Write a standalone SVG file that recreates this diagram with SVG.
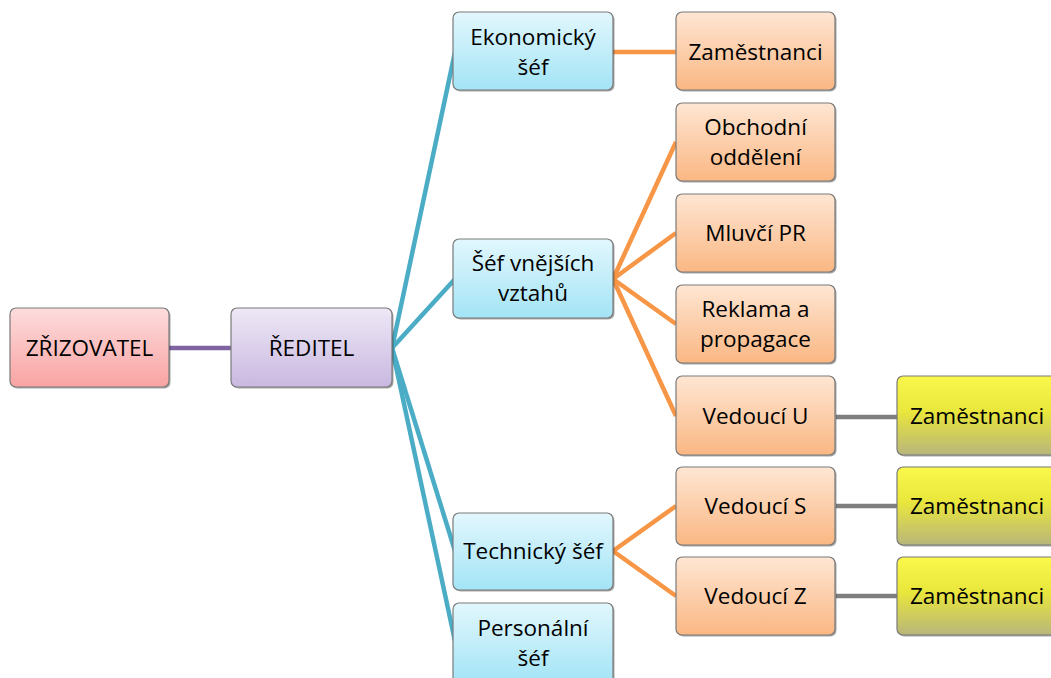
<svg xmlns="http://www.w3.org/2000/svg" width="1051" height="678" viewBox="0 0 1051 678">
<defs>
<linearGradient id="gPink" x1="0" y1="0" x2="0" y2="1"><stop offset="0" stop-color="#fddcdc"/><stop offset="1" stop-color="#f9a3a3"/></linearGradient>
<linearGradient id="gPurple" x1="0" y1="0" x2="0" y2="1"><stop offset="0" stop-color="#eee8f6"/><stop offset="1" stop-color="#c9b8e0"/></linearGradient>
<linearGradient id="gBlue" x1="0" y1="0" x2="0" y2="1"><stop offset="0" stop-color="#e2f7fd"/><stop offset="1" stop-color="#a3e4f6"/></linearGradient>
<linearGradient id="gOrange" x1="0" y1="0" x2="0" y2="1"><stop offset="0" stop-color="#fee6d3"/><stop offset="1" stop-color="#fab783"/></linearGradient>
<linearGradient id="gYellow" x1="0" y1="0" x2="0" y2="1"><stop offset="0" stop-color="#fbf84c"/><stop offset="0.45" stop-color="#e9e63c"/><stop offset="1" stop-color="#b8b67a"/></linearGradient>
</defs>
<style>
.box{stroke:#7a7a7a;stroke-width:1.2}
.sh{fill:#000;opacity:0.35}
.pink{fill:url(#gPink)}
.purple{fill:url(#gPurple)}
.blue{fill:url(#gBlue)}
.orange{fill:url(#gOrange)}
.yellow{fill:url(#gYellow)}
text{font-family:"Open Sans","Liberation Sans",sans-serif;font-size:22.5px;fill:#000;text-anchor:middle}
.c{fill:none;stroke-width:4.5}
.cb{stroke:#4bacc6}
.co{stroke:#f79646}
.cp{stroke:#8064a2}
.cg{stroke:#7f7f7f}
</style>
<g id="connectors">
<line class="c cp" x1="169" y1="348" x2="231" y2="348"/>
<line class="c cb" x1="392" y1="348" x2="455" y2="52"/>
<line class="c cb" x1="392" y1="348" x2="455" y2="279"/>
<line class="c cb" x1="392" y1="348" x2="455" y2="551"/>
<line class="c cb" x1="392" y1="348" x2="455" y2="641"/>
<line class="c co" x1="613" y1="52" x2="676" y2="52"/>
<line class="c co" x1="613" y1="279" x2="676" y2="142"/>
<line class="c co" x1="613" y1="279" x2="676" y2="233"/>
<line class="c co" x1="613" y1="279" x2="676" y2="324"/>
<line class="c co" x1="613" y1="279" x2="676" y2="416"/>
<line class="c co" x1="613" y1="551" x2="676" y2="506"/>
<line class="c co" x1="613" y1="551" x2="676" y2="596"/>
<line class="c cg" x1="836" y1="417" x2="897" y2="417"/>
<line class="c cg" x1="836" y1="506" x2="897" y2="506"/>
<line class="c cg" x1="836" y1="596" x2="897" y2="596"/>
</g>
<g id="zrizovatel"><rect class="sh" x="11.5" y="309.5" width="159" height="79" rx="6"/><rect class="box pink" x="10" y="308" width="159" height="79" rx="6"/><text x="89.5" y="356">ZŘIZOVATEL</text></g>
<g id="reditel"><rect class="sh" x="232.5" y="309.5" width="161" height="79" rx="6"/><rect class="box purple" x="231" y="308" width="161" height="79" rx="6"/><text x="311.5" y="356">ŘEDITEL</text></g>
<g id="ekonomicky"><rect class="sh" x="454.5" y="13.5" width="160" height="78" rx="6"/><rect class="box blue" x="453" y="12" width="160" height="78" rx="6"/><text x="533" y="45">Ekonomický</text><text x="533" y="75">šéf</text></g>
<g id="vnejsi"><rect class="sh" x="454.5" y="240.5" width="160" height="79" rx="6"/><rect class="box blue" x="453" y="239" width="160" height="79" rx="6"/><text x="533" y="271">Šéf vnějších</text><text x="533" y="301">vztahů</text></g>
<g id="technicky"><rect class="sh" x="454.5" y="514.5" width="160" height="77" rx="6"/><rect class="box blue" x="453" y="513" width="160" height="77" rx="6"/><text x="533" y="559">Technický šéf</text></g>
<g id="personalni"><rect class="sh" x="454.5" y="604.5" width="160" height="80" rx="6"/><rect class="box blue" x="453" y="603" width="160" height="80" rx="6"/><text x="533" y="636">Personální</text><text x="533" y="666">šéf</text></g>
<g id="zam1"><rect class="sh" x="677.5" y="13.5" width="159" height="78" rx="6"/><rect class="box orange" x="676" y="12" width="159" height="78" rx="6"/><text x="755.5" y="60">Zaměstnanci</text></g>
<g id="obchodni"><rect class="sh" x="677.5" y="104.5" width="159" height="78" rx="6"/><rect class="box orange" x="676" y="103" width="159" height="78" rx="6"/><text x="755.5" y="135">Obchodní</text><text x="755.5" y="165">oddělení</text></g>
<g id="mluvci"><rect class="sh" x="677.5" y="195.5" width="159" height="78" rx="6"/><rect class="box orange" x="676" y="194" width="159" height="78" rx="6"/><text x="755.5" y="241">Mluvčí PR</text></g>
<g id="reklama"><rect class="sh" x="677.5" y="286.5" width="159" height="78" rx="6"/><rect class="box orange" x="676" y="285" width="159" height="78" rx="6"/><text x="755.5" y="317">Reklama a</text><text x="755.5" y="347">propagace</text></g>
<g id="vedouciU"><rect class="sh" x="677.5" y="377.5" width="159" height="79" rx="6"/><rect class="box orange" x="676" y="376" width="159" height="79" rx="6"/><text x="755.5" y="424">Vedoucí U</text></g>
<g id="vedouciS"><rect class="sh" x="677.5" y="468.5" width="159" height="78" rx="6"/><rect class="box orange" x="676" y="467" width="159" height="78" rx="6"/><text x="755.5" y="514">Vedoucí S</text></g>
<g id="vedouciZ"><rect class="sh" x="677.5" y="558.5" width="159" height="78" rx="6"/><rect class="box orange" x="676" y="557" width="159" height="78" rx="6"/><text x="755.5" y="604">Vedoucí Z</text></g>
<g id="zamU"><rect class="sh" x="898.5" y="377.5" width="170" height="79" rx="6"/><rect class="box yellow" x="897" y="376" width="170" height="79" rx="6"/><text x="977" y="424">Zaměstnanci</text></g>
<g id="zamS"><rect class="sh" x="898.5" y="468.5" width="170" height="78" rx="6"/><rect class="box yellow" x="897" y="467" width="170" height="78" rx="6"/><text x="977" y="514">Zaměstnanci</text></g>
<g id="zamZ"><rect class="sh" x="898.5" y="558.5" width="170" height="78" rx="6"/><rect class="box yellow" x="897" y="557" width="170" height="78" rx="6"/><text x="977" y="604">Zaměstnanci</text></g>
</svg>
